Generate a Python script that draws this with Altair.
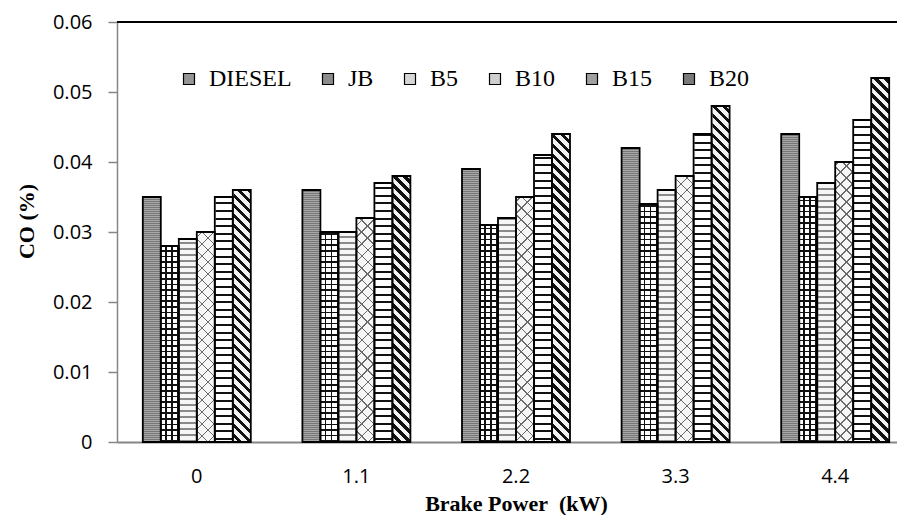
import altair as alt
import pandas as pd

# ---------------- data ----------------
categories = ["0", "1.1", "2.2", "3.3", "4.4"]
series = ["DIESEL", "JB", "B5", "B10", "B15", "B20"]
diesel = [0.035, 0.036, 0.039, 0.042, 0.044]
jb = [0.028, 0.030, 0.031, 0.034, 0.035]
b5 = [0.029, 0.030, 0.032, 0.036, 0.037]
b10 = [0.030, 0.032, 0.035, 0.038, 0.040]
b15 = [0.035, 0.037, 0.041, 0.044, 0.046]
b20 = [0.036, 0.038, 0.044, 0.048, 0.052]
y_ticks = [0, 0.01, 0.02, 0.03, 0.04, 0.05, 0.06]

rows = []
for s, vals in zip(series, [diesel, jb, b5, b10, b15, b20]):
    for c, v in zip(categories, vals):
        rows.append({"power": c, "fuel": s, "co": v})
df = pd.DataFrame(rows)

# ---------------- geometry / style ----------------
H = 420          # plot height
W = 780          # visible plot width
XR = 798         # band range (plot runs past the right edge, as in the reference)
BW = 18.0        # bar width
STEP = XR / len(categories)
PI = 1 - BW * len(series) / STEP
YMAX = y_ticks[-1]

tones = ["#959595", "#8c8c8c", "#d6d6d6", "#cfcfcf", "#a0a0a0", "#7a7a7a"]


def stripe_stops(length, period, line, dark, light, shift=0.0):
    stops = []
    pos = -shift
    while pos < length:
        a = max(pos, 0.0)
        b = max(pos + period - line, 0.0)
        c = min(pos + period, length)
        if b < length:
            stops += [(light, a), (light, b), (dark, b), (dark, c)]
        else:
            stops += [(light, a), (light, min(b, length))]
        pos += period
    out = []
    last = -1.0
    for col, off in stops:
        o = round(min(max(off / length, 0.0), 1.0), 5)
        if o < last:
            o = last
        last = o
        out.append(alt.GradientStop(color=col, offset=o))
    return out


def horiz_lines(period, line, dark, light):
    return alt.LinearGradient(gradient="linear", x1=0, y1=0, x2=0, y2=1,
                              stops=stripe_stops(H, period, line, dark, light))


def vert_lines(period, line, dark, light, shift=0.0):
    return alt.LinearGradient(gradient="linear", x1=0, y1=0, x2=1, y2=0,
                              stops=stripe_stops(BW, period, line, dark, light, shift))


r = BW / H
k = (BW + H) / (H * (1 + r * r))


def diag_back(period, line, dark, light):  # "\" stripes
    return alt.LinearGradient(gradient="linear", x1=0, y1=1, x2=r * k, y2=1 - k,
                              stops=stripe_stops(BW + H, period, line, dark, light))


def diag_fwd(period, line, dark, light):  # "/" stripes
    return alt.LinearGradient(gradient="linear", x1=0, y1=0, x2=r * k, y2=k,
                              stops=stripe_stops(BW + H, period, line, dark, light))


T = "transparent"
patterns = {
    "DIESEL": [horiz_lines(2.0, 1.0, "#777777", "#a8a8a8")],
    "JB": [horiz_lines(5.6, 1.6, "#111111", "#ffffff"),
           vert_lines(6.0, 1.6, "#111111", T, shift=0.2)],
    "B5": [horiz_lines(6.0, 1.6, "#8a8a8a", "#f6f6f6")],
    "B10": [diag_back(12.0, 1.4, "#6a6a6a", "#f6f6f6"),
            diag_fwd(12.0, 1.4, "#6a6a6a", T)],
    "B15": [horiz_lines(7.6, 2.0, "#111111", "#ffffff")],
    "B20": [diag_back(10.0, 4.5, "#111111", "#f2f2f2")],
}

TICK_FONT = "Open Sans"
TITLE_FONT = "Liberation Serif"

x_enc = alt.X("power:N", sort=categories,
              scale=alt.Scale(range=[0, XR], paddingInner=PI, paddingOuter=PI / 2),
              axis=alt.Axis(title="Brake Power\u00a0 (kW)", labelAngle=0, ticks=False,
                            labelPadding=24, labelFont=TICK_FONT, labelFontSize=20,
                            labelColor="#000000", domainColor="#868686", domainWidth=2,
                            titleFont=TITLE_FONT, titleFontSize=22,
                            titleFontWeight="bold", titleColor="#000000",
                            titleX=XR / 2, titleY=68, titleBaseline="alphabetic"))
xo_enc = alt.XOffset("fuel:N", sort=series,
                     scale=alt.Scale(domain=series, paddingInner=0, paddingOuter=0))
y_enc = alt.Y("co:Q",
              scale=alt.Scale(domain=[0, YMAX], nice=False, zero=True),
              axis=alt.Axis(title="CO (%)", values=y_ticks, format=".2~f", grid=False,
                            labelFont=TICK_FONT, labelFontSize=20, labelColor="#000000",
                            labelPadding=16, tickSize=9, tickColor="#868686", tickWidth=1.5,
                            domainColor="#868686", domainWidth=1.5,
                            titleFont=TITLE_FONT, titleFontSize=22,
                            titleFontWeight="bold", titleColor="#000000",
                            titleX=-91, titleY=199, titleBaseline="middle"))

base = alt.Chart(df).mark_bar(stroke=None).encode(
    x=x_enc, xOffset=xo_enc, y=y_enc, y2=alt.datum(0),
    fill=alt.Fill("fuel:N", sort=series,
                  scale=alt.Scale(domain=series, range=tones),
                  legend=alt.Legend(title=None, orient="none", legendX=60, legendY=45,
                                    direction="horizontal", symbolType="square",
                                    symbolSize=121, symbolStrokeColor="#000000",
                                    symbolStrokeWidth=1.2, labelFont=TITLE_FONT,
                                    labelFontSize=24, labelColor="#000000", labelOffset=8,
                                    columnPadding=24, labelLimit=300, zindex=1)),
)

layers = [base]
for s in series:
    for g in patterns[s]:
        layers.append(
            alt.Chart(df).transform_filter(alt.datum.fuel == s)
            .mark_bar(fill=g, stroke=None, strokeWidth=0)
            .encode(x=x_enc, xOffset=xo_enc, y=alt.datum(YMAX), y2=alt.datum(0))
        )

cover = alt.Chart(df).mark_bar(fill="#ffffff", stroke="#ffffff", strokeWidth=1.5).encode(
    x=x_enc, xOffset=xo_enc, y=alt.Y("co:Q"), y2=alt.datum(YMAX))
outline = alt.Chart(df).mark_bar(fill=None, stroke="#000000", strokeWidth=1.8).encode(
    x=x_enc, xOffset=xo_enc, y=alt.Y("co:Q"), y2=alt.datum(0))
topline = alt.Chart(df).mark_rule(color="#000000", strokeWidth=2).encode(
    y=alt.datum(YMAX))

layers += [cover, outline, topline]

chart = alt.layer(*layers).properties(
    width=W, height=H,
    autosize=alt.AutoSizeParams(type="none"),
    padding={"left": 109, "top": 14, "right": 0, "bottom": 73},
).configure_view(stroke=None).configure(background="#ffffff")

chart.save("out.html", embed_options={"renderer": "svg", "actions": False})
